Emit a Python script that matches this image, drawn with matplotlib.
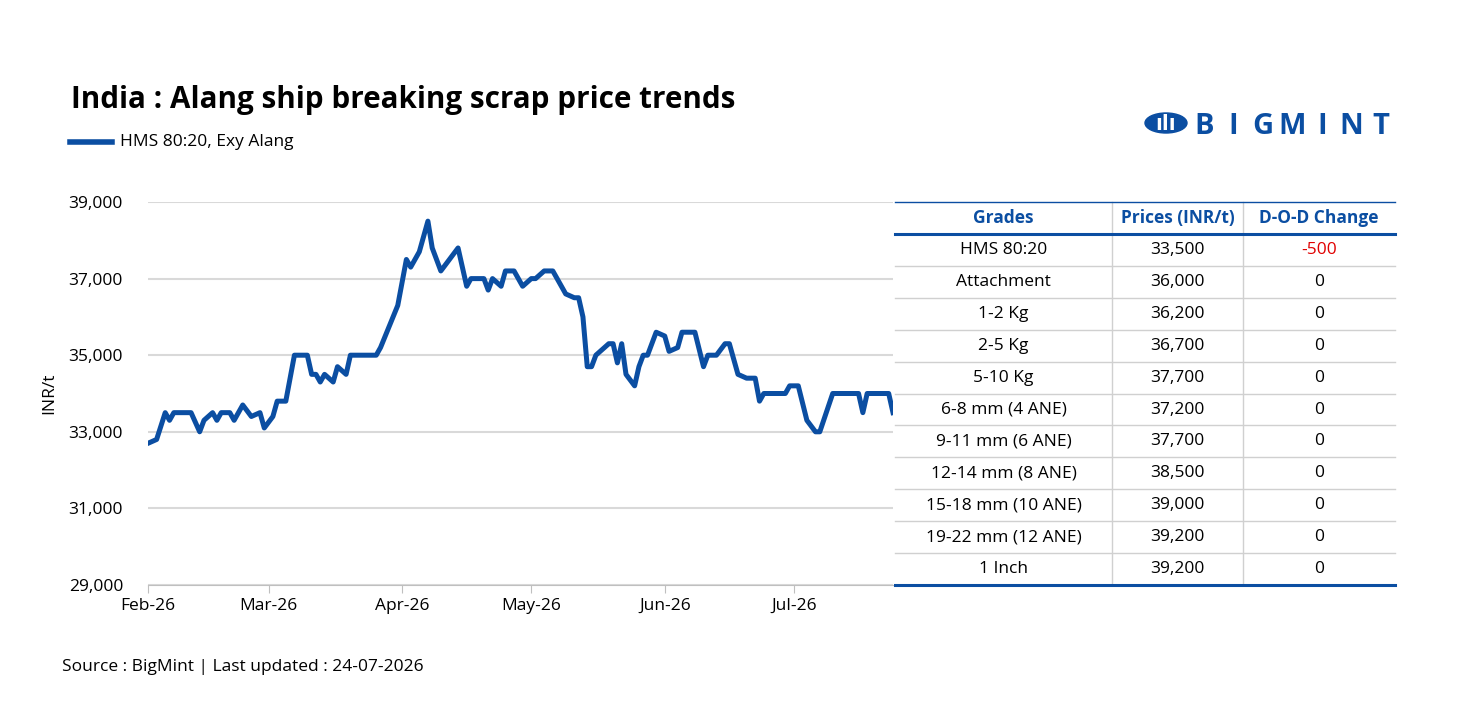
import matplotlib
matplotlib.use('Agg')
import matplotlib.pyplot as plt
import matplotlib.dates as mdates
import matplotlib.patches as patches
import numpy as np
import pandas as pd

plt.rcParams['font.family'] = ['Open Sans', 'DejaVu Sans']

# HMS 80:20, Exy Alang price series (INR/t)
dates = ['2026-02-01', '2026-02-03', '2026-02-05', '2026-02-06', '2026-02-07', '2026-02-11',
         '2026-02-13', '2026-02-14', '2026-02-16', '2026-02-17', '2026-02-18', '2026-02-20',
         '2026-02-21', '2026-02-23', '2026-02-25', '2026-02-27', '2026-02-28', '2026-03-02',
         '2026-03-03', '2026-03-05', '2026-03-07', '2026-03-10', '2026-03-11', '2026-03-12',
         '2026-03-13', '2026-03-14', '2026-03-16', '2026-03-17', '2026-03-19', '2026-03-20',
         '2026-03-26', '2026-03-27', '2026-03-31', '2026-04-02', '2026-04-03', '2026-04-05',
         '2026-04-07', '2026-04-08', '2026-04-10', '2026-04-14', '2026-04-16', '2026-04-17',
         '2026-04-20', '2026-04-21', '2026-04-22', '2026-04-24', '2026-04-25', '2026-04-27',
         '2026-04-29', '2026-05-01', '2026-05-02', '2026-05-04', '2026-05-06', '2026-05-09',
         '2026-05-11', '2026-05-12', '2026-05-13', '2026-05-14', '2026-05-15', '2026-05-16',
         '2026-05-19', '2026-05-20', '2026-05-21', '2026-05-22', '2026-05-23', '2026-05-25',
         '2026-05-26', '2026-05-27', '2026-05-28', '2026-05-30', '2026-06-01', '2026-06-02',
         '2026-06-04', '2026-06-05', '2026-06-08', '2026-06-10', '2026-06-11', '2026-06-13',
         '2026-06-15', '2026-06-16', '2026-06-18', '2026-06-20', '2026-06-22', '2026-06-23',
         '2026-06-24', '2026-06-29', '2026-06-30', '2026-07-02', '2026-07-04', '2026-07-06',
         '2026-07-07', '2026-07-10', '2026-07-16', '2026-07-17', '2026-07-18', '2026-07-23',
         '2026-07-24']
prices = [32700, 32800, 33500, 33300, 33500, 33500,
          33000, 33300, 33500, 33300, 33500, 33500,
          33300, 33700, 33400, 33500, 33100, 33400,
          33800, 33800, 35000, 35000, 34500, 34500,
          34300, 34500, 34300, 34700, 34500, 35000,
          35000, 35200, 36300, 37500, 37300, 37700,
          38500, 37800, 37200, 37800, 36800, 37000,
          37000, 36700, 37000, 36800, 37200, 37200,
          36800, 37000, 37000, 37200, 37200, 36600,
          36500, 36500, 36000, 34700, 34700, 35000,
          35300, 35300, 34800, 35300, 34500, 34200,
          34700, 35000, 35000, 35600, 35500, 35100,
          35200, 35600, 35600, 34700, 35000, 35000,
          35300, 35300, 34500, 34400, 34400, 33800,
          34000, 34000, 34200, 34200, 33300, 33000,
          33000, 34000, 34000, 33500, 34000, 34000,
          33500]

# table data
grades = ['HMS 80:20', 'Attachment', '1-2 Kg', '2-5 Kg', '5-10 Kg', '6-8 mm (4 ANE)',
          '9-11 mm (6 ANE)', '12-14 mm (8 ANE)', '15-18 mm (10 ANE)', '19-22 mm (12 ANE)', '1 Inch']
grade_prices = ['33,500', '36,000', '36,200', '36,700', '37,700', '37,200',
                '37,700', '38,500', '39,000', '39,200', '39,200']
dod_change = ['-500', '0', '0', '0', '0', '0', '0', '0', '0', '0', '0']
headers = ['Grades', 'Prices (INR/t)', 'D-O-D Change']

blue = '#0B4EA2'
W, H = 1473, 702
fs = 12.5

fig = plt.figure(figsize=(W / 100, H / 100), dpi=100)


def fx(px):
    return px / W


def fy(py):
    return 1 - py / H


ax = fig.add_axes([fx(148), fy(585), fx(893) - fx(148), fy(202) - fy(585)])
x = pd.to_datetime(dates)
ax.plot(x, prices, color=blue, lw=3.6, solid_joinstyle='round')
ax.set_xlim(pd.Timestamp('2026-02-01'), pd.Timestamp('2026-07-24'))
ax.set_ylim(29000, 39000)
ax.set_yticks(np.arange(29000, 39001, 2000))
ax.yaxis.set_major_formatter(matplotlib.ticker.FuncFormatter(lambda v, p: f'{int(v):,}'))
ax.xaxis.set_major_locator(mdates.MonthLocator())
ax.xaxis.set_major_formatter(mdates.DateFormatter('%b-%y'))
ax.grid(axis='y', color='#D9D9D9', lw=1.5)
ax.set_axisbelow(True)
for s in ['top', 'right', 'left']:
    ax.spines[s].set_visible(False)
ax.spines['bottom'].set_color('#BFBFBF')
ax.tick_params(axis='y', length=0, labelsize=fs, pad=18)
ax.tick_params(axis='x', length=6, color='#BFBFBF', labelsize=fs, pad=3, direction='out')
ax.set_ylabel('INR/t', fontsize=fs, labelpad=8)

# title, legend, source
fig.text(fx(71), fy(100), 'India : Alang ship breaking scrap price trends', fontsize=21.3,
         fontweight='bold', va='center')
fig.add_artist(plt.Line2D([fx(70), fx(112)], [fy(142), fy(142)], color=blue, lw=4))
fig.text(fx(120), fy(142), 'HMS 80:20, Exy Alang', fontsize=fs, va='center')
fig.text(fx(62), fy(667), 'Source : BigMint | Last updated : 24-07-2026', fontsize=fs, va='center')

# logo
fig.add_artist(patches.Circle((fx(1166), fy(123)), 21 / W, color=blue, transform=fig.transFigure))
fig.text(fx(1166), fy(124), 'ılı', fontsize=16, color='white', fontweight='bold',
         ha='center', va='center')
for i, ch in enumerate('BIGMINT'):
    fig.text(fx(1204 + i * 29.5), fy(127), ch, fontsize=21, fontweight='bold', color=blue,
             ha='center', va='center')

# table
cols = [895, 1112, 1243, 1395]
top, head_bot, bot = 202, 234, 585
row_h = (bot - head_bot) / len(grades)
for xv in cols[1:-1]:
    fig.add_artist(plt.Line2D([fx(xv), fx(xv)], [fy(top), fy(bot)], color='#D0D0D0', lw=1))
for i in range(1, len(grades)):
    yv = head_bot + i * row_h
    fig.add_artist(plt.Line2D([fx(cols[0]), fx(cols[-1])], [fy(yv), fy(yv)], color='#D0D0D0', lw=1))
fig.add_artist(plt.Line2D([fx(cols[0]), fx(cols[-1])], [fy(top), fy(top)], color=blue, lw=1))
fig.add_artist(plt.Line2D([fx(cols[0]), fx(cols[-1])], [fy(head_bot), fy(head_bot)], color=blue, lw=2.2))
fig.add_artist(plt.Line2D([fx(cols[0]), fx(cols[-1])], [fy(bot), fy(bot)], color=blue, lw=2.2))

centers = [(cols[i] + cols[i + 1]) / 2 for i in range(3)]
for c, h in zip(centers, headers):
    fig.text(fx(c), fy((top + head_bot) / 2), h, fontsize=fs, fontweight='bold', color=blue,
             ha='center', va='center')
for i, (g, p, d) in enumerate(zip(grades, grade_prices, dod_change)):
    yc = head_bot + (i + 0.5) * row_h
    fig.text(fx(centers[0]), fy(yc), g, fontsize=fs, ha='center', va='center')
    fig.text(fx(centers[1]), fy(yc), p, fontsize=fs, ha='center', va='center')
    fig.text(fx(centers[2]), fy(yc), d, fontsize=fs, ha='center', va='center',
             color='#E00000' if d.startswith('-') else 'black')

fig.savefig('out.png', dpi=100)
